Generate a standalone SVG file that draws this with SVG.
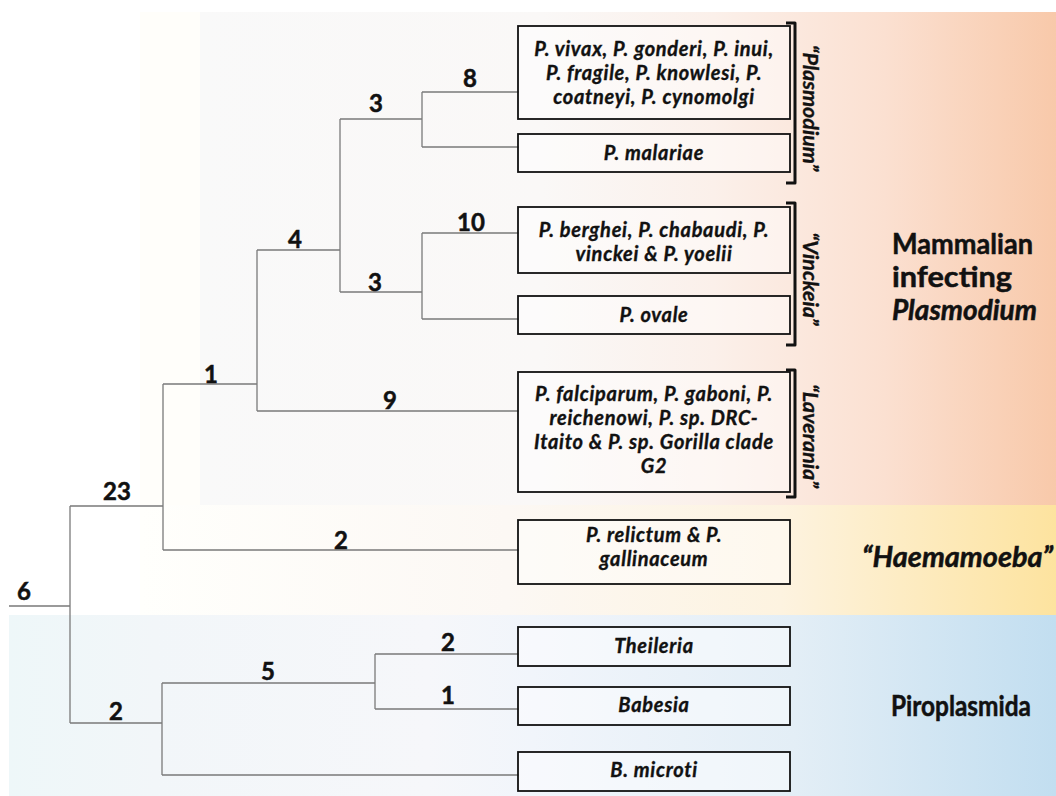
<svg xmlns="http://www.w3.org/2000/svg" width="1056" height="796" viewBox="0 0 1056 796">
<defs>
<linearGradient id="gMam" gradientUnits="userSpaceOnUse" x1="200" y1="0" x2="1056" y2="0">
<stop offset="0" stop-color="#f9f9f9"/>
<stop offset="0.4" stop-color="#faf8f7"/>
<stop offset="0.6" stop-color="#fbf0ea"/>
<stop offset="0.8" stop-color="#fbe0d1"/>
<stop offset="1" stop-color="#f8c9aa"/>
</linearGradient>
<linearGradient id="gHae" gradientUnits="userSpaceOnUse" x1="140" y1="0" x2="1056" y2="0">
<stop offset="0" stop-color="#fffffc"/>
<stop offset="0.4" stop-color="#fcf8f4"/>
<stop offset="0.7" stop-color="#fdf3e0"/>
<stop offset="1" stop-color="#fde39f"/>
</linearGradient>
<linearGradient id="gPir" gradientUnits="userSpaceOnUse" x1="9" y1="0" x2="1056" y2="0">
<stop offset="0" stop-color="#eef7f9"/>
<stop offset="0.14" stop-color="#f2f6f9"/>
<stop offset="0.4" stop-color="#f6f7fa"/>
<stop offset="0.5" stop-color="#f1f5fb"/>
<stop offset="0.75" stop-color="#e3eef6"/>
<stop offset="1" stop-color="#c2def0"/>
</linearGradient>
<style>
.br{fill:none;stroke:#7a7a7a;stroke-width:1.3}
.box{fill:#ffffff;fill-opacity:0.45;stroke:#111;stroke-width:1.8}
.bt{font-family:Lato,"Liberation Sans",sans-serif;font-weight:bold;font-style:italic;font-size:20px;letter-spacing:0.7px;fill:#111;stroke:#111;stroke-width:0.35;text-anchor:middle}
.num{font-family:Lato,"Liberation Sans",sans-serif;font-weight:bold;font-size:24px;fill:#111;stroke:#111;stroke-width:0.5;text-anchor:middle}
.brk{fill:none;stroke:#111;stroke-width:3;stroke-linejoin:round}
.rot{font-family:Lato,"Liberation Sans",sans-serif;font-weight:bold;font-style:italic;font-size:21.5px;fill:#111;stroke:#111;stroke-width:0.35;text-anchor:middle}
.grp{font-family:Lato,"Liberation Sans",sans-serif;font-weight:bold;font-size:28px;fill:#111;stroke:#111;stroke-width:0.5}
</style>
</defs>
<g id="background">
<rect x="150" y="12" width="906" height="493" fill="url(#gMam)"/>
<rect x="140" y="12" width="60" height="493" fill="#fffefa"/>
<rect x="140" y="505" width="916" height="110" fill="url(#gHae)"/>
<rect x="9" y="615" width="1047" height="181" fill="url(#gPir)"/>
</g>
<g id="connectors">
<path class="br" d="M9,606H70M70,506V723M70,506H163M163,384V550M163,550H519M163,384H257M257,250V411M257,411H519M257,250H340M340,119V292M340,119H422M422,92V147M422,92H519M422,147H519M340,292H422M422,233V319M422,233H519M422,319H519M70,723H162M162,683V775M162,775H519M162,683H375M375,654V709M375,654H519M375,709H519"/>
</g>
<g id="labels">
<text class="num" x="470" y="87">8</text>
<text class="num" x="376" y="112">3</text>
<text class="num" x="471" y="231">10</text>
<text class="num" x="295" y="248">4</text>
<text class="num" x="375" y="291">3</text>
<text class="num" x="211" y="383">1</text>
<text class="num" x="390" y="409">9</text>
<text class="num" x="117" y="500">23</text>
<text class="num" x="341" y="549">2</text>
<text class="num" x="24" y="600">6</text>
<text class="num" x="116" y="720">2</text>
<text class="num" x="268" y="680">5</text>
<text class="num" x="448" y="651">2</text>
<text class="num" x="448" y="704">1</text>
</g>
<g id="node-vivax">
<rect class="box" x="518" y="26" width="272" height="93"/>
<text class="bt" x="654" y="56">P. vivax, P. gonderi, P. inui,</text>
<text class="bt" x="654" y="80">P. fragile, P. knowlesi, P.</text>
<text class="bt" x="654" y="104">coatneyi, P. cynomolgi</text>
</g>
<g id="node-malariae">
<rect class="box" x="518" y="134" width="272" height="38"/>
<text class="bt" x="654" y="160">P. malariae</text>
</g>
<g id="node-berghei">
<rect class="box" x="518" y="207" width="272" height="66"/>
<text class="bt" x="654" y="237">P. berghei, P. chabaudi, P.</text>
<text class="bt" x="654" y="261">vinckei &amp; P. yoelii</text>
</g>
<g id="node-ovale">
<rect class="box" x="518" y="296" width="272" height="38"/>
<text class="bt" x="654" y="322">P. ovale</text>
</g>
<g id="node-falciparum">
<rect class="box" x="518" y="372" width="272" height="120"/>
<text class="bt" x="654" y="401">P. falciparum, P. gaboni, P.</text>
<text class="bt" x="654" y="425">reichenowi, P. sp. DRC-</text>
<text class="bt" x="654" y="449">Itaito &amp; P. sp. Gorilla clade</text>
<text class="bt" x="654" y="473">G2</text>
</g>
<g id="node-relictum">
<rect class="box" x="518" y="520" width="272" height="64"/>
<text class="bt" x="654" y="542">P. relictum &amp; P.</text>
<text class="bt" x="654" y="566">gallinaceum</text>
</g>
<g id="node-theileria">
<rect class="box" x="518" y="627" width="272" height="39"/>
<text class="bt" x="654" y="653">Theileria</text>
</g>
<g id="node-babesia">
<rect class="box" x="518" y="687" width="272" height="38"/>
<text class="bt" x="654" y="712">Babesia</text>
</g>
<g id="node-microti">
<rect class="box" x="518" y="752" width="272" height="39"/>
<text class="bt" x="654" y="777">B. microti</text>
</g>
<g id="brackets">
<path class="brk" d="M786,23H795V183H786"/>
<path class="brk" d="M786,203H795V345H786"/>
<path class="brk" d="M786,370H795V497H786"/>
<text class="rot" transform="translate(803,108) rotate(90)">“Plasmodium”</text>
<text class="rot" transform="translate(803,279) rotate(90)">“Vinckeia”</text>
<text class="rot" transform="translate(803,436) rotate(90)">“Laverania”</text>
</g>
<g id="group-labels">
<text class="grp" x="892" y="254" textLength="141" lengthAdjust="spacingAndGlyphs">Mammalian</text>
<text class="grp" x="892" y="287" textLength="120" lengthAdjust="spacingAndGlyphs">infecting</text>
<text class="grp" x="892" y="320" font-style="italic" textLength="145" lengthAdjust="spacingAndGlyphs">Plasmodium</text>
<text class="grp" x="862" y="567" font-style="italic" textLength="191" lengthAdjust="spacingAndGlyphs">“Haemamoeba”</text>
<text class="grp" x="891" y="716" textLength="140" lengthAdjust="spacingAndGlyphs">Piroplasmida</text>
</g>
</svg>
